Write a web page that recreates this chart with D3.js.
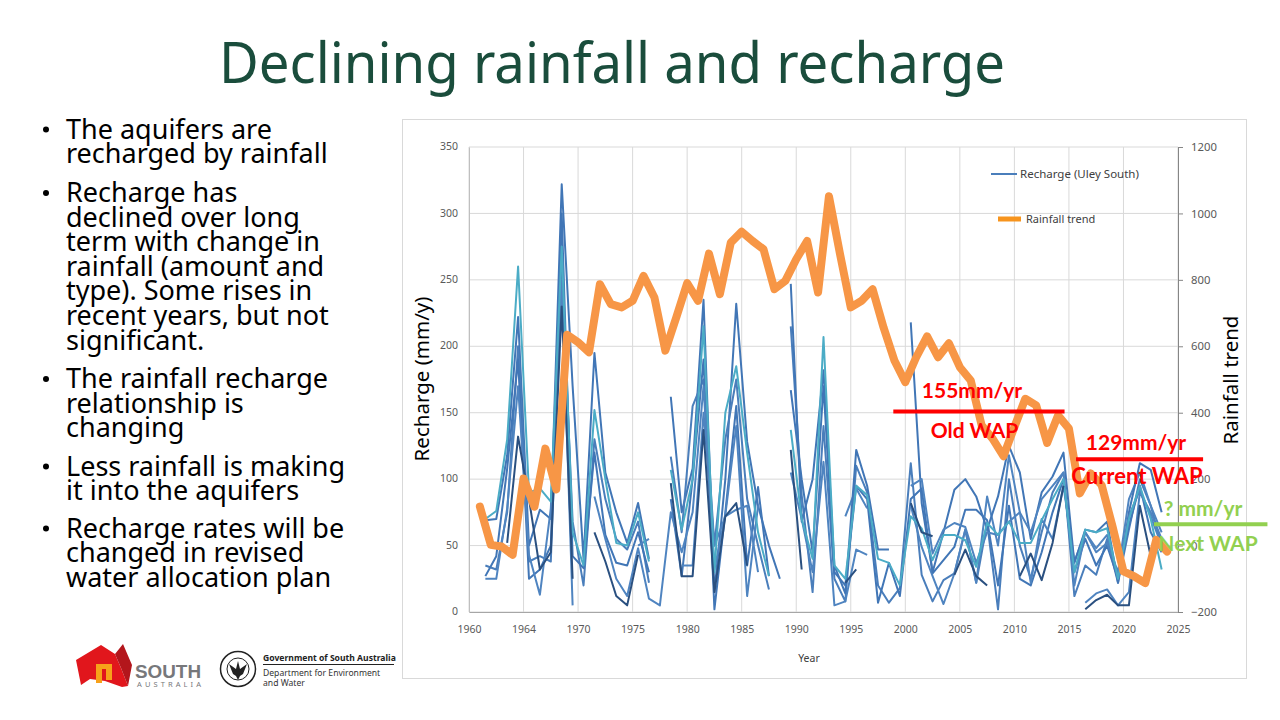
<!DOCTYPE html>
<html>
<head>
<meta charset="utf-8">
<title>Declining rainfall and recharge</title>
<script src="https://cdn.jsdelivr.net/npm/d3@7"></script>
<style>
    html, body { margin: 0; padding: 0; background: #fff; }
    svg { display: block; font-family: "Noto Sans", sans-serif; }
</style>
</head>
<body>
<svg id="slide" width="1280" height="720"></svg>
<script>
// Recharge values run from 1961.5 to 2023.5, one entry per year, null = no line there
const rechargeStart = 1961.5;

const rechargeA = [
    70, 76, 130, 260, 90, 93, 83, 275, 60,
    35, 152, 100, 52, 50, 75, 38, null, 107, 62,
    100, 215, 30, 150, 185, 120, 60, 27, null, 137,
    70, 40, 207, 35, 25, 95, 88, 40, 37, 20,
    72, 63, 39, 58, 58, 54, 34, 67, 58, 68,
    52, 52, 69, 85, 100, 30, 62, 60, 63, 25,
    70, 95, 70, 32
];
const rechargeB = [
    69, 70, 118, 222, 50, 77, 70, 322, 170,
    40, 195, 105, 75, 52, 82, 40, null, 162, 75,
    108, 235, 15, 100, 232, 128, 80, 50, 25
];
const rechargeC = [
    35, 32, 75, 200, 38, 42, 38, 260, 68,
    20, 130, 85, 55, 47, 68, 22, null, 117, 60,
    155, 175, 50, 130, 175, 85, 50, 17, null, 215,
    88, 15, 140, 25, 8, 110, 90, 20, 7, 18,
    112, 28, 8, 24, 29, 62, 22, 67, 2, 100,
    50, 25, 60, 90, 105, 12, 35, 28, 55, 22,
    62, 100, 80, 50
];
const rechargeD = [
    27, 42, 108, 190, 25, 32, 50, 300, 42,
    33, 120, 58, 37, 35, 60, 30, null, 85, 27,
    100, 190, 2, 75, 155, 35, 94, 27, null, 167,
    100, 45, 170, 30, 20, 95, 85, 7, 37, 12,
    85, 93, 29, 39, 49, 77, 77, 69, 20, 80,
    25, 20, 45, 75, 100, 30, 55, 35, 50, 25,
    65, 95, 60, 45
];
const rechargeE = [
    25, 25, 78, 170, 43, 13, 78, 250, 5,
    null, 87, 55, 25, 12, 48, 10, 5, 75, 45,
    75, 170, 32, 73, 140, 12, 80, null, null, 105,
    70, 30, 113, 5, 8, 47, 43, null, null, null,
    80, 49, 27, 6, 29, 62, 22, 87, 50, 118,
    75, 22, 70, 55, 95, 38, 60, 45, 52, 30,
    85, 105, 80, 60
];
const rechargeF = [
    null, null, 52, 132, 85, 32, 45, 230, 25,
    null, 60, 38, 12, 5, 43, null, null, 97, 27,
    27, 137, 15, 72, 82, 35, null, null, null, 122,
    32, null, null, null, 22, 32, null, null, null, null,
    82, 60, 57, null, 28, 47, 27, 20, null, null,
    27, 44, 24, 52, 95, null, 2, 9, 13, 5,
    5, 80, 42
];
const rechargeG = [
    null, null, null, null, null, null, null, null, null,
    null, null, null, null, null, 50, 55, null, null, 35,
    35, 150, 50, 72, 77, 80, 30, null, null, null,
    null, null, null, null, 72, 93, 78, null, null, null,
    null, null, null, null, null, null, null, null, null, null,
    null, null, null, null, null, null, 7, 14, 17, 5,
    15, 90, 75, 55
];
const rechargeH = [
    null, null, null, null, null, null, null, null, null,
    null, null, null, null, null, null, null, null, null, null,
    null, null, null, null, null, null, null, null, null, 247,
    68, 100, 182, 35, 14, 122, 95, 47, 47, null,
    218, 82, 30, 60, 92, 100, 87, 62, 87, 125,
    105, 55, 90, 102, 120, 37, 62, 60, 68, 22,
    75, 112, 107, 75
];
const rechargeI = [
    null, null, null, null, null, null, null, null, null,
    null, null, null, null, null, null, null, null, null, null,
    null, null, null, null, null, null, null, null, null, null,
    null, null, null, null, null, null, null, null, null, null,
    95, 100, 44, 62, 67, 64, 37, 60, 58, 68,
    75, 60, 85, 95, 105, 20, 60, 48, 58, 25,
    72, 92, 72, 50
];
const rechargeSeries = [rechargeB, rechargeC, rechargeD, rechargeE, rechargeG, rechargeH, rechargeI, rechargeA, rechargeF];
const rechargeColors = ["#4176b6", "#4a7ebb", "#4176b6", "#4f84c0", "#4f84c0", "#4176b6", "#4f84c0", "#4bacc6", "#2a5080"];

const rainfallYears = [
    1961, 1962, 1963, 1964, 1965, 1966, 1967, 1968, 1969, 1970,
    1971, 1972, 1973, 1974, 1975, 1976, 1977, 1978, 1979, 1980,
    1981, 1982, 1983, 1984, 1985, 1986, 1987, 1988, 1989, 1990,
    1991, 1992, 1993, 1994, 1995, 1996, 1997, 1998, 1999, 2000,
    2001, 2002, 2003, 2004, 2005, 2006, 2007, 2008, 2009, 2010,
    2011, 2012, 2013, 2014, 2015, 2016, 2017, 2018, 2019, 2020,
    2021, 2022, 2023, 2024
];
const rainfallTrend = [
    117, 2, -3, -28, 202, 117, 292, 169, 635, 612,
    582, 787, 727, 717, 737, 812, 747, 587, 687, 790,
    737, 879, 757, 912, 945, 917, 892, 772, 797, 862,
    917, 762, 1052, 880, 717, 737, 772, 657, 557, 492,
    567, 630, 567, 609, 537, 497, 362, 322, 269, 357,
    442, 422, 309, 392, 352, 157, 217, 182, 57, -78,
    -93, -113, 17, -18
];

const xTicks = [1960, 1965, 1970, 1975, 1980, 1985, 1990, 1995, 2000, 2005, 2010, 2015, 2020, 2025];
const xTickLabels = ["1960", "1964", "1970", "1975", "1980", "1985", "1990", "1995", "2000", "2005", "2010", "2015", "2020", "2025"];
const yTicks = [0, 50, 100, 150, 200, 250, 300, 350];
const y2Ticks = [-200, 0, 200, 400, 600, 800, 1000, 1200];

// WAP markers: [from year, to year], level on the recharge axis
const oldWapYears = [1998.9, 2014.6];
const oldWapLevel = 151;
const currentWapYears = [2015.65, 2027.3];
const currentWapLevel = 115;
const nextWapYears = [2022.8, 2033.2];
const nextWapLevel = 66;

const titleText = "Declining rainfall and recharge";
const bullets = [
    ["The aquifers are", "recharged by rainfall"],
    ["Recharge has", "declined over long", "term with change in", "rainfall (amount and", "type). Some rises in", "recent years, but not", "significant."],
    ["The rainfall recharge", "relationship is", "changing"],
    ["Less rainfall is making", "it into the aquifers"],
    ["Recharge rates will be", "changed in revised", "water allocation plan"]
];
const bulletBaselines = [138.5, 202, 388, 475.5, 537.5];

function drawSlide() {
    const svg = d3.select("#slide");

    svg.append("text")
        .attr("x", 219)
        .attr("y", 83)
        .attr("font-size", 56)
        .attr("textLength", 786)
        .attr("lengthAdjust", "spacingAndGlyphs")
        .attr("fill", "#1a4d3c")
        .text(titleText);

    const body = svg.append("g").attr("font-size", 27).attr("fill", "#000");
    bullets.forEach(function (lines, i) {
        body.append("circle")
            .attr("cx", 46)
            .attr("cy", bulletBaselines[i] - 9)
            .attr("r", 3);
        lines.forEach(function (line, j) {
            body.append("text")
                .attr("x", 66)
                .attr("y", bulletBaselines[i] + j * 24.6)
                .text(line);
        });
    });

    drawLogos(svg);
}

function drawChart() {
    const svg = d3.select("#slide");

    svg.append("rect")
        .attr("x", 402.5)
        .attr("y", 119.5)
        .attr("width", 844)
        .attr("height", 559)
        .attr("fill", "#fff")
        .attr("stroke", "#d9d9d9");

    const x = d3.scaleLinear().domain([1960, 2025]).range([469, 1178]);
    const y = d3.scaleLinear().domain([0, 350]).range([612, 147]);
    const y2 = d3.scaleLinear().domain([-200, 1200]).range([612, 147]);

    // gridlines
    const grid = svg.append("g").attr("stroke", "#d9d9d9").attr("stroke-width", 1);
    grid.selectAll(".gx").data(xTicks).enter().append("line")
        .attr("class", "gx")
        .attr("x1", function (d) { return x(d); })
        .attr("x2", function (d) { return x(d); })
        .attr("y1", y(350))
        .attr("y2", y(0));
    grid.selectAll(".gy").data(yTicks).enter().append("line")
        .attr("class", "gy")
        .attr("x1", x(1960))
        .attr("x2", x(2025))
        .attr("y1", function (d) { return y(d); })
        .attr("y2", function (d) { return y(d); });

    const rechargeLine = d3.line()
        .defined(function (d) { return d != null; })
        .x(function (d, i) { return x(rechargeStart + i); })
        .y(function (d) { return y(d); });

    svg.append("g").selectAll("path")
        .data(rechargeSeries)
        .enter()
        .append("path")
        .attr("d", rechargeLine)
        .attr("fill", "none")
        .attr("stroke", function (d, i) { return rechargeColors[i]; })
        .attr("stroke-width", 2)
        .attr("stroke-linejoin", "round");

    const rainfallLine = d3.line()
        .x(function (d, i) { return x(rainfallYears[i]); })
        .y(function (d) { return y2(d); });

    svg.append("path")
        .attr("d", rainfallLine(rainfallTrend))
        .attr("fill", "none")
        .attr("stroke", "#f79646")
        .attr("stroke-width", 8)
        .attr("stroke-linejoin", "round")
        .attr("stroke-linecap", "round");

    const tickColor = "#595959";

    const xAxis = d3.axisBottom(x)
        .tickValues(xTicks)
        .tickSize(0)
        .tickPadding(14)
        .tickFormat(function (d, i) { return xTickLabels[i]; });
    svg.append("g")
        .attr("transform", "translate(0," + y(0) + ")")
        .call(xAxis)
        .call(function (g) { g.select(".domain").attr("stroke", "#a6a6a6"); })
        .call(function (g) { g.selectAll("text").attr("fill", tickColor).attr("font-size", 10.5).attr("font-family", "'Noto Sans', sans-serif"); });

    const yAxis = d3.axisLeft(y)
        .tickValues(yTicks)
        .tickSize(0)
        .tickPadding(11);
    svg.append("g")
        .attr("transform", "translate(" + x(1960) + ",0)")
        .call(yAxis)
        .call(function (g) { g.select(".domain").attr("stroke", "#bfbfbf"); })
        .call(function (g) { g.selectAll("text").attr("fill", tickColor).attr("font-size", 10.5).attr("dy", "0.25em").attr("font-family", "'Noto Sans', sans-serif"); });

    const y2Axis = d3.axisRight(y2)
        .tickValues(y2Ticks)
        .tickSizeOuter(5)
        .tickSizeInner(5)
        .tickPadding(8)
        .tickFormat(d3.format("d"));
    svg.append("g")
        .attr("transform", "translate(" + x(2025) + ",0)")
        .call(y2Axis)
        .call(function (g) { g.select(".domain").attr("stroke", "#868686"); })
        .call(function (g) { g.selectAll("line").attr("stroke", "#868686"); })
        .call(function (g) { g.selectAll("text").attr("fill", tickColor).attr("font-size", 11.3).attr("font-family", "'Noto Sans', sans-serif"); });

    // axis titles
    svg.append("text")
        .attr("transform", "translate(429,379) rotate(-90)")
        .attr("text-anchor", "middle")
        .attr("font-size", 20.5)
        .attr("fill", "#000")
        .text("Recharge (mm/y)");
    svg.append("text")
        .attr("transform", "translate(1238,380) rotate(-90)")
        .attr("text-anchor", "middle")
        .attr("font-size", 20.5)
        .attr("fill", "#000")
        .text("Rainfall trend");
    svg.append("text")
        .attr("x", 809)
        .attr("y", 662)
        .attr("text-anchor", "middle")
        .attr("font-size", 10.5)
        .attr("fill", "#404040")
        .text("Year");

    // legend
    svg.append("line")
        .attr("x1", 991).attr("x2", 1017)
        .attr("y1", 174).attr("y2", 174)
        .attr("stroke", "#4a7ebb")
        .attr("stroke-width", 2);
    svg.append("text")
        .attr("x", 1020).attr("y", 178)
        .attr("font-size", 11.5)
        .attr("fill", "#404040")
        .text("Recharge (Uley South)");
    svg.append("line")
        .attr("x1", 998).attr("x2", 1021)
        .attr("y1", 219).attr("y2", 219)
        .attr("stroke", "#f7941d")
        .attr("stroke-width", 5);
    svg.append("text")
        .attr("x", 1026).attr("y", 223)
        .attr("font-size", 11)
        .attr("fill", "#404040")
        .text("Rainfall trend");

    drawWap(svg, x, y, oldWapYears, oldWapLevel, "#ff0000", 4);
    drawWap(svg, x, y, currentWapYears, currentWapLevel, "#ff0000", 4);
    drawWap(svg, x, y, nextWapYears, nextWapLevel, "#92d050", 4);

    drawWapLabel(svg, "155mm/yr", 972, 398, "#ff0000", 21);
    drawWapLabel(svg, "Old WAP", 974.5, 438, "#ff0000", 21);
    drawWapLabel(svg, "129mm/yr", 1136, 450, "#ff0000", 21);
    drawWapLabel(svg, "Current WAP", 1137, 484, "#ff0000", 22);
    drawWapLabel(svg, "? mm/yr", 1203, 516, "#92d050", 21);
    drawWapLabel(svg, "Next WAP", 1208, 551, "#92d050", 21);
}

function drawWap(svg, x, y, years, level, color, width) {
    svg.append("line")
        .attr("x1", x(years[0]))
        .attr("x2", x(years[1]))
        .attr("y1", y(level))
        .attr("y2", y(level))
        .attr("stroke", color)
        .attr("stroke-width", width);
}

function drawWapLabel(svg, label, cx, baseline, color, size) {
    svg.append("text")
        .attr("x", cx)
        .attr("y", baseline)
        .attr("text-anchor", "middle")
        .attr("font-family", "Lato, sans-serif")
        .attr("font-weight", 700)
        .attr("font-size", size)
        .attr("fill", color)
        .text(label);
}

// rough versions of the two logos at the bottom left
function drawLogos(svg) {
    const logo = svg.append("g");
    logo.append("path")
        .attr("d", "M76,660 L101,645 L115,654 L121,668 L128,686 L122,687 L105,681 L90,679 L81,685 Z")
        .attr("fill", "#e1161c");
    logo.append("path")
        .attr("d", "M115,654 L123,644 L132,665 L128,686 L121,668 Z")
        .attr("fill", "#b3161c");
    logo.append("path")
        .attr("d", "M96,683 V664 H112 V680 H106 V669 H102 V683 Z")
        .attr("fill", "#f7a11a");
    logo.append("text")
        .attr("x", 135).attr("y", 678)
        .attr("font-family", "'Liberation Sans', sans-serif")
        .attr("font-weight", 700)
        .attr("font-size", 18.5)
        .attr("textLength", 66)
        .attr("lengthAdjust", "spacingAndGlyphs")
        .attr("fill", "#77787b")
        .text("SOUTH");
    logo.append("text")
        .attr("x", 137).attr("y", 686.5)
        .attr("font-size", 7.5)
        .attr("textLength", 64)
        .attr("fill", "#77787b")
        .text("AUSTRALIA");

    logo.append("circle")
        .attr("cx", 238).attr("cy", 669)
        .attr("r", 17.5)
        .attr("fill", "none")
        .attr("stroke", "#222")
        .attr("stroke-width", 1.5);
    logo.append("circle")
        .attr("cx", 238).attr("cy", 669)
        .attr("r", 11)
        .attr("fill", "none")
        .attr("stroke", "#222")
        .attr("stroke-width", 1);
    logo.append("path")
        .attr("d", "M229,664 L236,669 L238,661 L240,669 L247,664 L243,674 L240,676 L238,680 L236,676 L233,674 Z")
        .attr("fill", "#222");

    logo.append("text")
        .attr("x", 263).attr("y", 661)
        .attr("font-size", 8.6)
        .attr("font-weight", 700)
        .attr("fill", "#222")
        .text("Government of South Australia");
    logo.append("line")
        .attr("x1", 263).attr("x2", 394)
        .attr("y1", 664.5).attr("y2", 664.5)
        .attr("stroke", "#222")
        .attr("stroke-width", 1);
    logo.append("text")
        .attr("x", 263).attr("y", 676)
        .attr("font-size", 8.6)
        .attr("fill", "#333")
        .text("Department for Environment");
    logo.append("text")
        .attr("x", 263).attr("y", 686)
        .attr("font-size", 8.6)
        .attr("fill", "#333")
        .text("and Water");
}

drawSlide();
drawChart();
</script>
</body>
</html>
